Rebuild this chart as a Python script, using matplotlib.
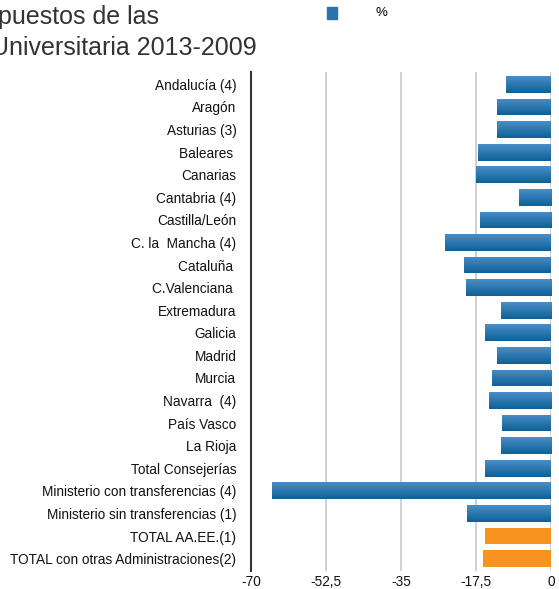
import matplotlib
matplotlib.use("Agg")
import matplotlib.pyplot as plt
import numpy as np
from matplotlib.colors import LinearSegmentedColormap

plt.rcParams["font.family"] = ["Liberation Sans", "DejaVu Sans"]

# data (%)
categories = [
    "Andalucía (4)", "Aragón", "Asturias (3)", "Baleares ", "Canarias",
    "Cantabria (4)", "Castilla/León", "C. la  Mancha (4)", "Cataluña ",
    "C.Valenciana ", "Extremadura", "Galicia", "Madrid", "Murcia",
    "Navarra  (4)", "País Vasco", "La Rioja", "Total Consejerías",
    "Ministerio con transferencias (4)", "Ministerio sin transferencias (1)",
    "TOTAL AA.EE.(1)", "TOTAL con otras Administraciones(2)",
]
values = [
    -10.5, -12.6, -12.6, -17.0, -17.5, -7.5, -16.6, -24.7, -20.2,
    -19.9, -11.7, -15.4, -12.6, -13.8, -14.5, -11.4, -11.7, -15.4,
    -65.1, -19.5, -15.4, -15.9,
]
highlight = ["TOTAL AA.EE.(1)", "TOTAL con otras Administraciones(2)"]
x_ticks = [-70, -52.5, -35, -17.5, 0]
x_tick_labels = ["-70", "-52,5", "-35", "-17,5", "0"]
title_lines = ["puestos de las", "Universitaria 2013-2009"]

BLUE = "#2a73ab"
ORANGE = "#f7931e"
blue_grad = LinearSegmentedColormap.from_list("bar", ["#4b8dc7", "#0d6196"])

fig = plt.figure(figsize=(5.59, 5.89), dpi=100)
ax = fig.add_axes([251 / 559, 1 - 571 / 589, 300 / 559, 499 / 589])

colors = [ORANGE if c in highlight else BLUE for c in categories]
ypos = list(range(len(categories)))
bars = ax.barh(ypos, values, height=0.74, color=colors, zorder=3)

# vertical shading on the blue bars (lighter at the top)
grad = np.linspace(0, 1, 64).reshape(-1, 1)
for bar, c in zip(bars, colors):
    if c != BLUE:
        continue
    x0, y0 = bar.get_x(), bar.get_y()
    w, h = bar.get_width(), bar.get_height()
    im = ax.imshow(grad, cmap=blue_grad, aspect="auto", zorder=4,
                   extent=[x0, x0 + w, y0 + h, y0], interpolation="bilinear")
    im.set_clip_path(bar)

ax.set_xlim(-70, 0)
ax.set_ylim(len(categories) - 0.45, -0.55)
ax.set_xticks(x_ticks)
ax.set_xticklabels(x_tick_labels, fontsize=9.8)
ax.set_yticks(ypos)
ax.set_yticklabels(categories, fontsize=9.8)
ax.tick_params(axis="both", length=0, colors="#111111")
ax.tick_params(axis="y", pad=10.5)
ax.tick_params(axis="x", pad=3)

ax.grid(axis="x", color="#c8c8c8", linewidth=1.2, zorder=0)
for side in ["top", "right", "bottom"]:
    ax.spines[side].set_visible(False)
ax.spines["left"].set_color("#333333")
ax.spines["left"].set_linewidth(1.5)

# title (its left part falls outside the picture, as in the reference)
fig.text(159 / 559, 1 - 24 / 589, title_lines[0],
         ha="right", va="baseline", fontsize=18, color="#333333")
fig.text(257 / 559, 1 - 55 / 589, title_lines[1],
         ha="right", va="baseline", fontsize=18, color="#333333")

# legend
fig.patches.append(plt.Rectangle((327 / 559, 1 - 19 / 589), 10 / 559, 12 / 589,
                                 transform=fig.transFigure, color=BLUE))
fig.text(376 / 559, 1 - 13 / 589, "%", ha="left", va="center", fontsize=9.5)

fig.savefig("out.png", dpi=100)
